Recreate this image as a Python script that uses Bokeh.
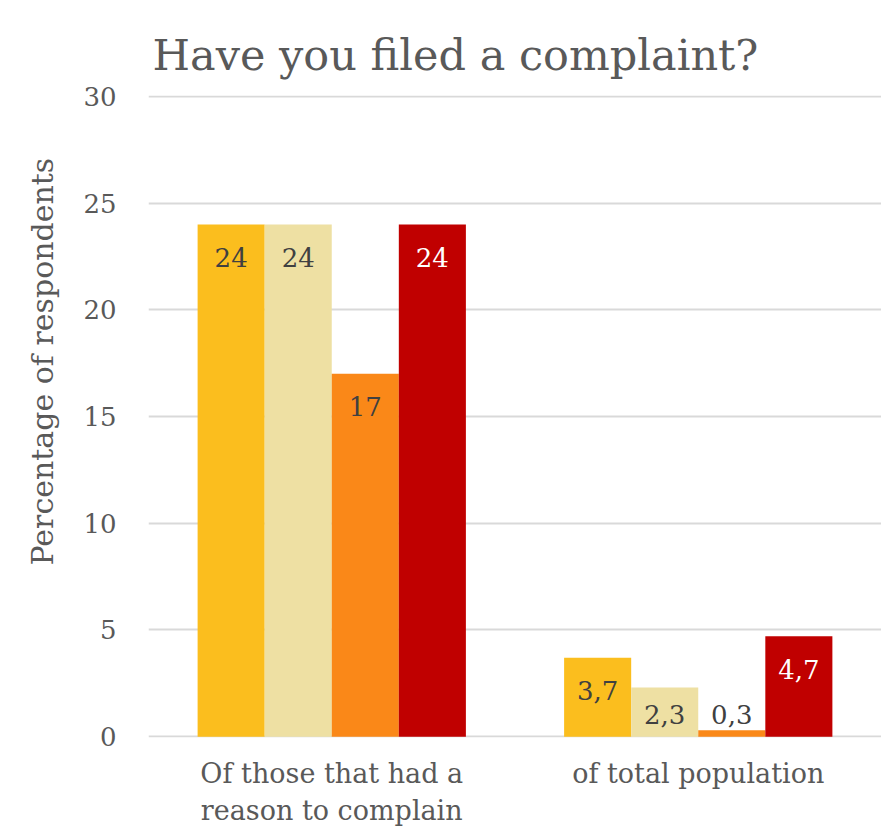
from bokeh.plotting import figure
from bokeh.models import FactorRange, ColumnDataSource, Title, Range1d
from bokeh.transform import dodge
from bokeh.core.properties import value
from bokeh.embed import file_html
from bokeh.resources import INLINE

categories = ["Of those that had a\nreason to complain", "of total population"]
series_names = ["s1", "s2", "s3", "s4"]
series_values = [
    [24, 3.7],
    [24, 2.3],
    [17, 0.3],
    [24, 4.7],
]
value_labels = [
    ["24", "3,7"],
    ["24", "2,3"],
    ["17", "0,3"],
    ["24", "4,7"],
]
colors = ["#FBBE1E", "#EEE0A3", "#FA8818", "#C00000"]
label_colors = ["#404040", "#404040", "#404040", "#FFFFFF"]
y_ticks = [0, 5, 10, 15, 20, 25, 30]

FONT = "DejaVu Serif"
GRAY = "#595959"

p = figure(width=881, height=828, x_range=FactorRange(*categories),
           y_range=Range1d(-0.04, 30.04), output_backend="svg", toolbar_location=None,
           min_border_left=148, min_border_right=0, min_border_top=95,
           min_border_bottom=91)
p.outline_line_color = None

p.title = Title(text="Have you filed a complaint?", align="left",
                text_font=FONT, text_font_size="43px", text_color=GRAY,
                text_font_style="normal", offset=4, standoff=32)

bw = 0.183
offsets = [-0.2745, -0.0915, 0.0915, 0.2745]
for i, name in enumerate(series_names):
    vals = series_values[i]
    ly = [max(v - 1.55, 1.03) for v in vals]
    src = ColumnDataSource(dict(x=categories, top=vals, ly=ly, lab=value_labels[i]))
    p.vbar(x=dodge("x", offsets[i], range=p.x_range), top="top", width=bw,
           source=src, fill_color=colors[i], line_color=None)
    p.text(x=dodge("x", offsets[i], range=p.x_range), y="ly", text="lab",
           source=src, text_align="center", text_baseline="middle",
           text_font=value(FONT), text_font_size="26px",
           text_color=label_colors[i])

p.ygrid.grid_line_color = "#D9D9D9"
p.ygrid.grid_line_width = 2
p.xgrid.grid_line_color = None
p.yaxis.ticker = y_ticks
p.yaxis.axis_line_color = None
p.yaxis.major_tick_line_color = None
p.yaxis.minor_tick_line_color = None
p.yaxis.major_label_text_font = FONT
p.yaxis.major_label_text_font_size = "26px"
p.yaxis.major_label_text_color = GRAY
p.yaxis.major_label_standoff = 26

p.xaxis.axis_line_color = None
p.xaxis.major_tick_line_color = None
p.xaxis.major_label_text_font = FONT
p.xaxis.major_label_text_font_size = "27px"
p.xaxis.major_label_text_color = GRAY
p.xaxis.major_label_standoff = 14

p.add_layout(Title(text="Percentage of respondents", align="left", offset=172,
                   text_font=FONT, text_font_size="30px", text_color=GRAY,
                   text_font_style="normal", standoff=42), "left")

open("out.html", "w").write(file_html(p, INLINE))
